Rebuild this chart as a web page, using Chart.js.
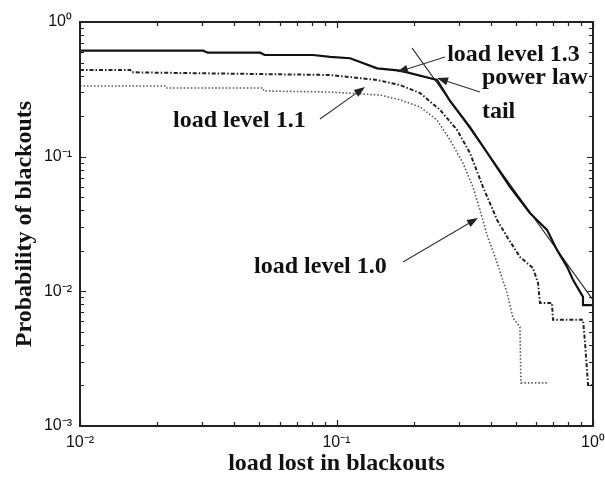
<!DOCTYPE html>
<html>
<head>
<meta charset="utf-8">
<script src="https://cdn.jsdelivr.net/npm/chart.js@4.4.1/dist/chart.umd.min.js"></script>
<style>
  html, body { margin: 0; padding: 0; background: #fff; }
  #wrap { width: 605px; height: 480px; }
</style>
</head>
<body>
<div id="wrap"><canvas id="myChart"></canvas></div>
<script>
// load lost in blackouts (x) vs probability of blackouts (y)
const level13X = [0.01, 0.0302, 0.0315, 0.0504, 0.0525, 0.081, 0.0944, 0.113, 0.144, 0.177, 0.2466, 0.2773, 0.3313, 0.3966, 0.4745, 0.5675, 0.6617, 0.7238, 0.7925, 0.8354, 0.9141, 0.9141, 1.0];
const level13Y = [0.612, 0.612, 0.592, 0.592, 0.569, 0.569, 0.550, 0.538, 0.453, 0.435, 0.371, 0.259, 0.166, 0.0995, 0.0596, 0.0382, 0.0286, 0.0203, 0.0152, 0.0122, 0.0091, 0.0079, 0.0079];

const level11X = [0.01, 0.0157, 0.0159, 0.0944, 0.113, 0.144, 0.177, 0.2117, 0.2534, 0.2951, 0.3313, 0.3724, 0.4227, 0.4623, 0.519, 0.5834, 0.6103, 0.6215, 0.6917, 0.6983, 0.9141, 0.931, 0.9566, 1.0];
const level11Y = [0.44, 0.44, 0.423, 0.404, 0.39, 0.371, 0.340, 0.297, 0.222, 0.158, 0.1065, 0.0596, 0.0339, 0.0254, 0.018, 0.0149, 0.01154, 0.0082, 0.0082, 0.00614, 0.00614, 0.00414, 0.00202, 0.00202];

const level10X = [0.01, 0.0214, 0.0216, 0.0517, 0.052, 0.0944, 0.1478, 0.177, 0.2117, 0.2466, 0.2773, 0.3111, 0.3404, 0.3625, 0.3863, 0.4227, 0.4623, 0.4877, 0.519, 0.5236, 0.6681];
const level10Y = [0.335, 0.335, 0.3236, 0.3236, 0.3075, 0.302, 0.287, 0.264, 0.234, 0.187, 0.133, 0.0897, 0.0596, 0.0402, 0.0262, 0.0163, 0.00973, 0.00635, 0.00544, 0.00209, 0.00209];

const powerLawX = [0.197, 1.0];
const powerLawY = [0.641, 0.00863];

// axis decades (exponents of 10)
const xDecades = [-2, -1, 0];
const yDecades = [-3, -2, -1, 0];

// annotation texts and arrows, positioned in data units
const notes = [
    { text: 'load level 1.3', x: 0.270, y: 0.569 },
    { text: 'power law', x: 0.369, y: 0.384 },
    { text: 'tail', x: 0.369, y: 0.215 },
    { text: 'load level 1.1', x: 0.02305, y: 0.184 },
    { text: 'load level 1.0', x: 0.0477, y: 0.0152 }
];
const arrows = [
    { from: [0.265, 0.550], to: [0.172, 0.425] },
    { from: [0.3625, 0.302], to: [0.2466, 0.384] },
    { from: [0.0862, 0.1905], to: [0.1292, 0.329] },
    { from: [0.1817, 0.01653], to: [0.3561, 0.0351] }
];

const SUP = { '-': '\u207B', '0': '\u2070', '1': '\u00B9', '2': '\u00B2', '3': '\u00B3' };
function decadeLabel(e) {
    return '10' + String(e).split('').map(c => SUP[c]).join('');
}
function isDecade(v) {
    const l = Math.log10(v);
    return Math.abs(l - Math.round(l)) < 1e-6;
}
function logTicks(decades) {
    const out = [];
    for (let i = 0; i < decades.length - 1; i++) {
        for (let m = 1; m <= 9; m++) out.push({ value: Number((m * Math.pow(10, decades[i])).toPrecision(3)) });
    }
    out.push({ value: Math.pow(10, decades[decades.length - 1]) });
    return out;
}
function pts(xs, ys) {
    return xs.map((x, i) => ({ x: x, y: ys[i] }));
}
function noPad(s) {
    s.paddingLeft = 0; s.paddingRight = 0; s.paddingTop = 0; s.paddingBottom = 0;
}

const frameAndTicks = {
    id: 'frameAndTicks',
    afterDatasetsDraw(chart) {
        const { ctx, chartArea: a, scales: { x, y } } = chart;
        ctx.save();
        ctx.strokeStyle = '#222';
        ctx.lineWidth = 1.2;
        ctx.beginPath();
        x.ticks.forEach(t => {
            const p = Math.round(x.getPixelForValue(t.value)) + 0.5;
            const len = isDecade(t.value) ? 6 : 4;
            ctx.moveTo(p, a.bottom); ctx.lineTo(p, a.bottom - len);
            ctx.moveTo(p, a.top); ctx.lineTo(p, a.top + len);
        });
        y.ticks.forEach(t => {
            const p = Math.round(y.getPixelForValue(t.value)) + 0.5;
            const len = isDecade(t.value) ? 6 : 4;
            ctx.moveTo(a.left, p); ctx.lineTo(a.left + len, p);
            ctx.moveTo(a.right, p); ctx.lineTo(a.right - len, p);
        });
        ctx.stroke();
        ctx.lineWidth = 2;
        ctx.strokeRect(a.left, a.top, a.right - a.left, a.bottom - a.top);
        ctx.restore();
    }
};

const annotations = {
    id: 'annotations',
    afterDraw(chart) {
        const { ctx, scales: { x, y } } = chart;
        ctx.save();
        ctx.strokeStyle = '#333';
        ctx.fillStyle = '#222';
        ctx.lineWidth = 1.1;
        arrows.forEach(ar => {
            const x1 = x.getPixelForValue(ar.from[0]), y1 = y.getPixelForValue(ar.from[1]);
            const x2 = x.getPixelForValue(ar.to[0]), y2 = y.getPixelForValue(ar.to[1]);
            const ang = Math.atan2(y2 - y1, x2 - x1);
            ctx.beginPath();
            ctx.moveTo(x1, y1);
            ctx.lineTo(x2 - 8 * Math.cos(ang), y2 - 8 * Math.sin(ang));
            ctx.stroke();
            ctx.beginPath();
            ctx.moveTo(x2, y2);
            ctx.lineTo(x2 - 11 * Math.cos(ang) + 4 * Math.sin(ang), y2 - 11 * Math.sin(ang) - 4 * Math.cos(ang));
            ctx.lineTo(x2 - 11 * Math.cos(ang) - 4 * Math.sin(ang), y2 - 11 * Math.sin(ang) + 4 * Math.cos(ang));
            ctx.closePath();
            ctx.fill();
        });
        ctx.fillStyle = '#111';
        ctx.font = 'bold 24px "Liberation Serif", serif';
        ctx.textAlign = 'left';
        ctx.textBaseline = 'middle';
        notes.forEach(n => {
            ctx.fillText(n.text, x.getPixelForValue(n.x), y.getPixelForValue(n.y));
        });
        ctx.restore();
    }
};

document.addEventListener('DOMContentLoaded', function () {
    const ctx = document.getElementById('myChart').getContext('2d');
    new Chart(ctx, {
        type: 'line',
        data: {
            datasets: [{
                label: 'load level 1.3',
                data: pts(level13X, level13Y),
                borderColor: '#111',
                borderWidth: 2.2
            }, {
                label: 'load level 1.1',
                data: pts(level11X, level11Y),
                borderColor: '#222',
                borderWidth: 2,
                borderDash: [4, 2, 1.5, 2]
            }, {
                label: 'load level 1.0',
                data: pts(level10X, level10Y),
                borderColor: '#555',
                borderWidth: 1.6,
                borderDash: [1.5, 2]
            }, {
                label: 'power law tail',
                data: pts(powerLawX, powerLawY),
                borderColor: '#222',
                borderWidth: 1.2
            }]
        },
        options: {
            responsive: true,
            maintainAspectRatio: false,
            animation: false,
            elements: {
                point: { radius: 0 },
                line: { tension: 0, fill: false }
            },
            layout: { padding: { top: 22, right: 12, left: 0, bottom: 0 } },
            scales: {
                x: {
                    type: 'logarithmic',
                    min: Math.pow(10, xDecades[0]),
                    max: Math.pow(10, xDecades[xDecades.length - 1]),
                    afterBuildTicks: s => { s.ticks = logTicks(xDecades); },
                    afterFit: s => { s.height = 54; noPad(s); },
                    grid: { display: false, drawTicks: false },
                    border: { display: false },
                    ticks: {
                        autoSkip: false,
                        maxRotation: 0,
                        padding: 7,
                        color: '#111',
                        font: { family: '"Liberation Sans", Arial, sans-serif', size: 16 },
                        callback: v => isDecade(v) ? decadeLabel(Math.round(Math.log10(v))) : ''
                    },
                    title: {
                        display: true,
                        text: 'load lost in blackouts',
                        color: '#111',
                        font: { family: '"Liberation Serif", serif', size: 24, weight: 'bold' },
                        padding: { top: 0, bottom: 2 }
                    }
                },
                y: {
                    type: 'logarithmic',
                    min: Math.pow(10, yDecades[0]),
                    max: Math.pow(10, yDecades[yDecades.length - 1]),
                    afterBuildTicks: s => { s.ticks = logTicks(yDecades); },
                    afterFit: s => { s.width = 80; noPad(s); },
                    grid: { display: false, drawTicks: false },
                    border: { display: false },
                    ticks: {
                        autoSkip: false,
                        padding: 8,
                        color: '#111',
                        font: { family: '"Liberation Sans", Arial, sans-serif', size: 16 },
                        callback: v => isDecade(v) ? decadeLabel(Math.round(Math.log10(v))) : ''
                    },
                    title: {
                        display: true,
                        text: 'Probability of blackouts',
                        color: '#111',
                        font: { family: '"Liberation Serif", serif', size: 24, weight: 'bold' },
                        padding: { top: 10, bottom: 0 }
                    }
                }
            },
            plugins: {
                legend: { display: false },
                tooltip: { enabled: false }
            }
        },
        plugins: [frameAndTicks, annotations]
    });
});
</script>
</body>
</html>
